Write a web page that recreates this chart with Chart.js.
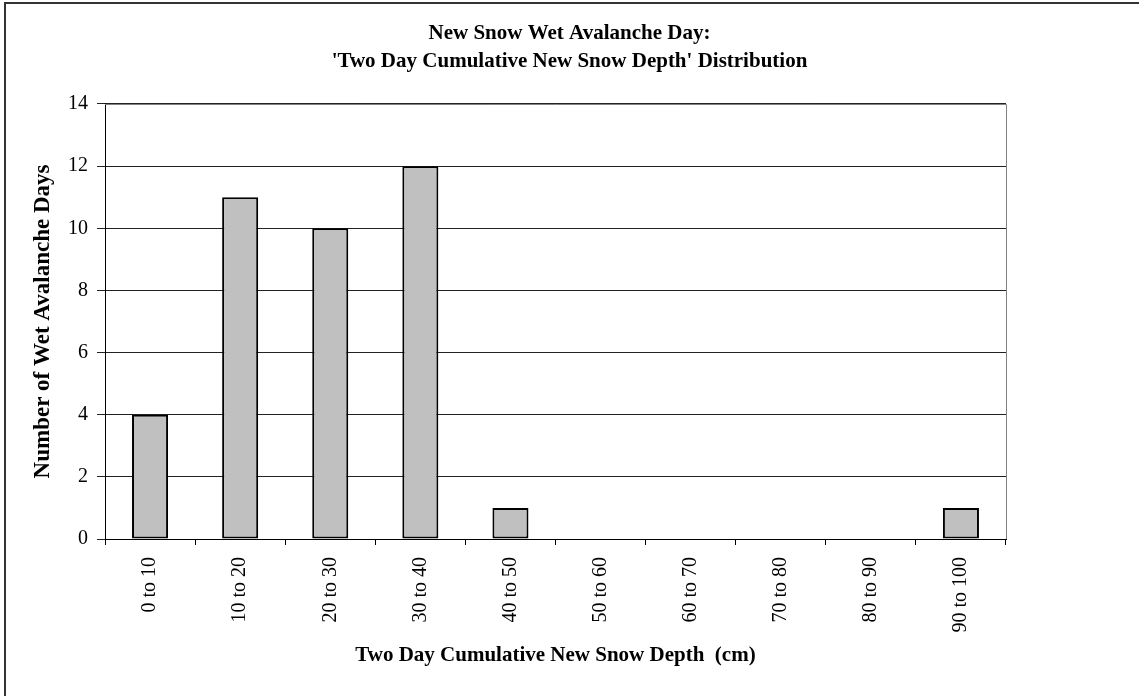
<!DOCTYPE html>
<html>
<head>
<meta charset="utf-8">
<title>New Snow Wet Avalanche Day</title>
<script src="https://cdn.jsdelivr.net/npm/chart.js@4/dist/chart.umd.min.js"></script>
<style>
  html, body { margin: 0; padding: 0; background: #fff; }
  #wrap { position: relative; width: 1139px; height: 696px; }
</style>
</head>
<body>
<div id="wrap"><canvas id="chart" width="1139" height="696"></canvas></div>
<script>
// Depth bins (cm) and the number of wet avalanche days in each
const depthBins = ['0 to 10', '10 to 20', '20 to 30', '30 to 40', '40 to 50',
                   '50 to 60', '60 to 70', '70 to 80', '80 to 90', '90 to 100'];
const avalancheDays = [4, 11, 10, 12, 1, 0, 0, 0, 0, 1];
const yTicks = [0, 2, 4, 6, 8, 10, 12, 14];

const titleLines = ['New Snow Wet Avalanche Day:',
                    "'Two Day Cumulative New Snow Depth' Distribution"];
const xTitle = 'Two Day Cumulative New Snow Depth  (cm)';
const yTitle = 'Number of Wet Avalanche Days';

const SERIF = "'Liberation Serif', 'Times New Roman', serif";

// Outer frame and the grey plot-area outline
const framePlugin = {
  id: 'frame',
  beforeDraw(chart) {
    const ctx = chart.ctx;
    ctx.save();
    ctx.fillStyle = '#fff';
    ctx.fillRect(0, 0, chart.width, chart.height);
    ctx.strokeStyle = '#333';
    ctx.lineWidth = 2;
    ctx.beginPath();
    ctx.moveTo(5, chart.height + 5);
    ctx.lineTo(5, 3);
    ctx.lineTo(chart.width + 5, 3);
    ctx.stroke();
    ctx.restore();
  },
  beforeDatasetsDraw(chart) {
    const {ctx, chartArea: a} = chart;
    ctx.save();
    ctx.strokeStyle = '#808080';
    ctx.lineWidth = 1;
    ctx.beginPath();
    ctx.moveTo(a.left, a.top + 0.5);
    ctx.lineTo(a.right + 0.5, a.top + 0.5);
    ctx.lineTo(a.right + 0.5, a.bottom);
    ctx.stroke();
    ctx.restore();
  }
};

new Chart(document.getElementById('chart'), {
  type: 'bar',
  data: {
    labels: depthBins,
    datasets: [{
      data: avalancheDays,
      backgroundColor: '#c0c0c0',
      borderColor: '#000',
      borderWidth: 2,
      borderSkipped: false,
      barPercentage: 0.4,
      categoryPercentage: 1.0
    }]
  },
  options: {
    responsive: false,
    animation: false,
    layout: { padding: 0 },
    plugins: {
      legend: { display: false },
      tooltip: { enabled: false },
      title: {
        display: true,
        text: titleLines,
        color: '#000',
        font: { family: SERIF, size: 21, weight: 'bold', lineHeight: 1.333 },
        padding: { top: 20, bottom: 28 }
      }
    },
    scales: {
      x: {
        grid: {
          offset: true,
          drawOnChartArea: false,
          color: '#000',
          tickLength: 6
        },
        border: { color: '#000', width: 1 },
        ticks: {
          color: '#000',
          font: { family: SERIF, size: 20 },
          minRotation: 90,
          maxRotation: 90,
          autoSkip: false,
          padding: 12
        },
        title: {
          display: true,
          text: xTitle,
          color: '#000',
          font: { family: SERIF, size: 21, weight: 'bold' },
          padding: { top: 0, bottom: 28 }
        },
        afterFit(scale) { scale.height = 157; }
      },
      y: {
        min: 0,
        max: 14,
        afterBuildTicks(scale) { scale.ticks = yTicks.map(v => ({ value: v })); },
        grid: { color: '#222', tickLength: 8 },
        border: { color: '#000', width: 1 },
        ticks: {
          color: '#000',
          font: { family: SERIF, size: 20 },
          padding: 9
        },
        title: {
          display: true,
          text: yTitle,
          color: '#000',
          font: { family: SERIF, size: 23, weight: 'bold' },
          padding: { top: 29, bottom: 0 }
        },
        afterFit(scale) { scale.width = 105; }
      },
      spacer: {
        position: 'right',
        display: true,
        min: 0,
        max: 1,
        grid: { display: false },
        border: { display: false },
        ticks: { display: false },
        afterFit(scale) { scale.width = 133; }
      }
    }
  },
  plugins: [framePlugin]
});
</script>
</body>
</html>
